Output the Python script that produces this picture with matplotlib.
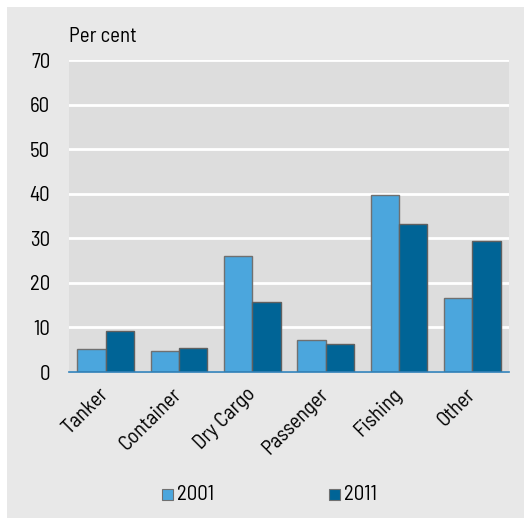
import matplotlib
matplotlib.use("Agg")
import matplotlib.pyplot as plt
from matplotlib.patches import Rectangle
import numpy as np

categories = ["Tanker", "Container", "Dry Cargo", "Passenger", "Fishing", "Other"]
values_2001 = [5.2, 4.8, 26.0, 7.1, 39.7, 16.7]
values_2011 = [9.3, 5.3, 15.7, 6.3, 33.3, 29.5]
series_labels = ["2001", "2011"]
yticks = [0, 10, 20, 30, 40, 50, 60, 70]

plt.rcParams['font.family'] = ['Barlow Semi Condensed', 'DejaVu Sans']

c1 = "#4BA6DD"
c2 = "#006496"
bg = "#E8E8E8"
plotbg = "#DDDDDD"
fs = 15

fig = plt.figure(figsize=(5.24, 5.18), dpi=100, facecolor="white")
fig.patches.append(Rectangle((7/524, 0), 1, 1 - 7/518, transform=fig.transFigure,
                             facecolor=bg, edgecolor="none", zorder=-10))
ax = fig.add_axes([69/524, 1 - 372/518, (509 - 69)/524, (372 - 60)/518])
ax.set_facecolor(plotbg)

x = np.arange(len(categories))
w = 0.386
ax.bar(x - w/2, values_2001, w, color=c1, edgecolor="#707070", linewidth=1.0, zorder=3)
ax.bar(x + w/2, values_2011, w, color=c2, edgecolor="#606060", linewidth=1.0, zorder=3)

ax.set_xlim(-0.5, 5.5)
ax.set_ylim(0, 70)
ax.set_yticks(yticks)
ax.set_yticklabels([str(v) for v in yticks], fontsize=fs)
ax.yaxis.grid(True, color="white", linewidth=2, zorder=1)
ax.set_axisbelow(True)
ax.tick_params(axis="y", length=0, pad=13.5)
ax.tick_params(axis="x", length=0, pad=14)
ax.set_xticks(x)
ax.set_xticklabels(categories, rotation=45, ha="right", va="center",
                   rotation_mode="anchor", fontsize=fs)
for s in ["top", "right", "left"]:
    ax.spines[s].set_visible(False)
ax.spines["bottom"].set_color("#2F80B8")
ax.spines["bottom"].set_linewidth(1.2)
ax.spines["bottom"].set_zorder(4)

fig.text(69/524, 1 - 36/518, "Per cent", fontsize=fs, va="center", ha="left")

# legend
for xpos, col, lab in [(162, c1, series_labels[0]), (329, c2, series_labels[1])]:
    fig.patches.append(Rectangle((xpos/524, 1 - 499.5/518), 11/524, 11/518,
                                 transform=fig.transFigure, facecolor=col,
                                 edgecolor="#707070", linewidth=0.8))
    fig.text((xpos + 15)/524, 1 - 494/518, lab, fontsize=fs, va="center", ha="left")

fig.savefig("out.png", dpi=100, facecolor=fig.get_facecolor())
